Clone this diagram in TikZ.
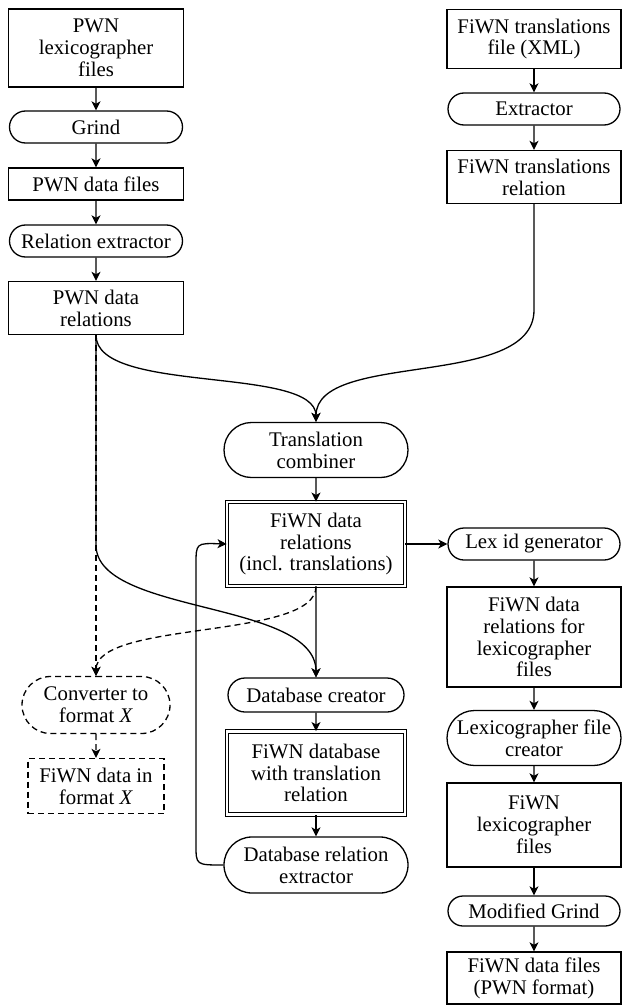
\documentclass[tikz,border=0pt]{standalone}
\usepackage{fontspec}
\setmainfont{Liberation Serif}
\usetikzlibrary{shapes.misc,arrows.meta}
\tikzset{every path/.style={line width=0.65pt}, >={Stealth[length=4.5pt,width=4.5pt,inset=1.2pt]}}
\tikzset{data/.style={draw, rectangle, align=center, inner sep=1pt},
  proc/.style={draw, rounded rectangle, align=center, inner sep=1pt},
  store/.style={data, double, double distance=1.2pt, line width=0.45pt},
  opt/.style={dash pattern=on 3pt off 2pt}}

\begin{document}
\begin{tikzpicture}[x=0.5pt, y=-0.5pt, font=\rmfamily\fontsize{10.4}{10.9}\selectfont]
   \useasboundingbox (0,0) rectangle (624,1006);
   % PWN side
   \node[data, minimum width=87.5pt, minimum height=39pt] (plex) at (96,48) {PWN\\lexicographer\\files};
   \node[proc, minimum width=88.5pt, minimum height=16pt] (grind) at (96,127) {Grind};
   \node[data, minimum width=87.5pt, minimum height=16pt] (pdata) at (96,184) {PWN data files};
   \node[proc, minimum width=88.5pt, minimum height=16pt] (relex) at (96,241) {Relation extractor};
   \node[data, minimum width=87.5pt, minimum height=26.5pt] (prel) at (96,308) {PWN data\\relations};
   % translations
   \node[data, minimum width=87pt, minimum height=29.5pt] (ftrans) at (534,39) {FiWN translations\\file (XML)};
   \node[proc, minimum width=88pt, minimum height=16pt] (extr) at (534,109) {Extractor};
   \node[data, minimum width=87pt, minimum height=26.5pt] (frel) at (534,177) {FiWN translations\\relation};
   % middle
   \node[proc, minimum width=94pt, minimum height=27.5pt] (tcomb) at (316,450) {Translation\\combiner};
   \node[store, minimum width=89pt, minimum height=42pt] (frel2) at (316,544) {FiWN data\\relations\\(incl. translations)};
   \node[proc, minimum width=90pt, minimum height=17pt] (dbc) at (316,695) {Database creator};
   \node[store, minimum width=89pt, minimum height=41.5pt] (fdb) at (316,773) {FiWN database\\with translation\\relation};
   \node[proc, minimum width=94pt, minimum height=28pt] (dbrex) at (316,865) {Database relation\\extractor};
   % lexicographer files
   \node[proc, minimum width=88pt, minimum height=16pt] (lexid) at (534,544) {Lex id generator};
   \node[data, minimum width=87pt, minimum height=50pt] (flexrel) at (534,637) {FiWN data\\relations for\\lexicographer\\files};
   \node[proc, minimum width=89pt, minimum height=27.5pt] (lfc) at (534,738) {Lexicographer file\\creator};
   \node[data, minimum width=87pt, minimum height=42pt] (flex) at (534,825) {FiWN\\lexicographer\\files};
   \node[proc, minimum width=88pt, minimum height=15pt] (mgrind) at (534,911) {Modified Grind};
   \node[data, minimum width=87pt, minimum height=26pt] (fdata) at (534,978) {FiWN data files\\(PWN format)};
   % other formats
   \node[proc, opt, minimum width=76pt, minimum height=28.5pt] (conv) at (96,705) {Converter to\\format \textit{X}};
   \node[data, opt, minimum width=68pt, minimum height=27.5pt] (fdx) at (96,786) {FiWN data in\\format \textit{X}};

   \foreach \a/\b in {plex/grind, grind/pdata, pdata/relex, relex/prel, ftrans/extr, extr/frel,
       tcomb/frel2, frel2/dbc, dbc/fdb, fdb/dbrex, lexid/flexrel, flexrel/lfc, lfc/flex,
       flex/mgrind, mgrind/fdata}
     \draw[->] (\a) -- (\b);
   \draw[->] (frel2) -- (lexid);
   \draw[->] (prel.south) .. controls (96,395) and (316,365) .. (tcomb.north);
   \draw[->] (frel.south) -- (534,310) .. controls (534,390) and (316,350) .. (tcomb.north);
   \draw[->] (prel.south) -- (96,545) .. controls (96,615) and (316,600) .. (dbc.north);
   \draw[->, opt] (prel.south) -- (conv.north);
   \draw[->, opt] (frel2.south) .. controls (316,640) and (96,620) .. (conv.north);
   \draw[->, opt] (conv) -- (fdx);
   \draw[->] (dbrex.west) .. controls (196,865) .. (196,845) -- (196,565)
     .. controls (196,543) .. (frel2.west);
\end{tikzpicture}
\end{document}
